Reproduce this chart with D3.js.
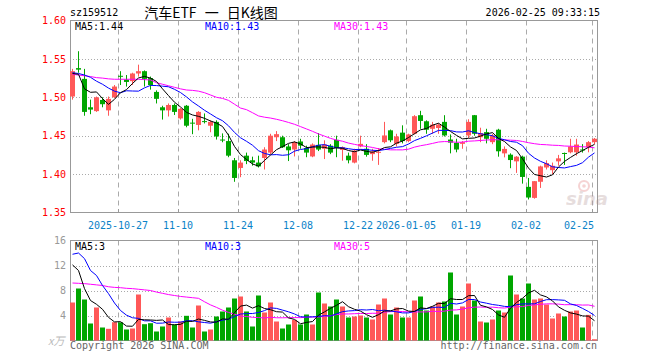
<!DOCTYPE html>
<html><head><meta charset="utf-8">
<script src="https://cdn.jsdelivr.net/npm/d3@7"></script>
<style>body{margin:0;background:#fff}svg{display:block}</style>
</head><body><svg id="c" width="660" height="360"></svg>
<script>
const opens = [1.501,1.538,1.524,1.487,1.482,1.4965,1.483,1.500,1.528,1.523,
1.521,1.531,1.534,1.525,1.507,1.487,1.483,1.490,1.4725,1.489,
1.467,1.464,1.469,1.463,1.468,1.445,1.443,1.418,1.408,1.424,
1.418,1.415,1.421,1.428,1.448,1.448,1.436,1.432,1.4425,1.434,
1.423,1.438,1.433,1.437,1.4446,1.4315,1.424,1.415,1.436,1.433,
1.426,1.428,1.4416,1.457,1.4394,1.454,1.443,1.4525,1.4767,1.4688,
1.459,1.460,1.468,1.445,1.4407,1.4394,1.4503,1.4767,1.448,1.4547,
1.4416,1.4578,1.427,1.4253,1.4166,1.4227,1.3834,1.369,1.390,1.4086,
1.4051,1.4166,1.4275,1.4284,1.4284,1.432,1.435,1.4416];
const highs = [1.537,1.560,1.537,1.497,1.501,1.500,1.501,1.516,1.534,1.529,
1.532,1.5425,1.535,1.527,1.509,1.489,1.492,1.492,1.486,1.490,
1.472,1.482,1.479,1.470,1.470,1.453,1.4526,1.421,1.418,1.428,
1.4227,1.424,1.435,1.4525,1.456,1.450,1.439,1.443,1.446,1.437,
1.440,1.4534,1.444,1.439,1.450,1.436,1.428,1.433,1.450,1.439,
1.433,1.434,1.468,1.458,1.4525,1.4635,1.4526,1.4768,1.4824,1.470,
1.468,1.466,1.4767,1.4517,1.446,1.443,1.4714,1.477,1.4604,1.459,
1.4525,1.459,1.436,1.427,1.4235,1.424,1.395,1.391,1.411,1.418,
1.415,1.425,1.428,1.446,1.446,1.439,1.443,1.447];
const lows = [1.497,1.532,1.476,1.478,1.481,1.487,1.476,1.499,1.516,1.514,
1.516,1.527,1.514,1.510,1.492,1.471,1.475,1.477,1.471,1.461,
1.452,1.457,1.466,1.4545,1.445,1.4415,1.422,1.390,1.396,1.413,
1.411,1.4086,1.406,1.426,1.443,1.434,1.417,1.423,1.433,1.422,
1.422,1.430,1.4196,1.426,1.422,1.4174,1.414,1.414,1.435,1.4227,
1.4174,1.412,1.440,1.4416,1.436,1.440,1.4416,1.4517,1.459,1.4525,
1.4525,1.4525,1.449,1.427,1.4284,1.433,1.447,1.450,1.4416,1.440,
1.439,1.4227,1.4218,1.4077,1.4016,1.3876,1.367,1.368,1.382,1.406,
1.400,1.411,1.412,1.427,1.424,1.428,1.4284,1.439];
const closes = [1.534,1.536,1.481,1.484,1.500,1.491,1.498,1.514,1.527,1.520,
1.531,1.534,1.524,1.516,1.498,1.483,1.490,1.481,1.485,1.463,
1.466,1.481,1.468,1.468,1.449,1.444,1.424,1.395,1.415,1.417,
1.415,1.410,1.432,1.450,1.452,1.435,1.431,1.4416,1.437,1.428,
1.4385,1.432,1.4385,1.428,1.434,1.435,1.418,1.4306,1.4394,1.425,
1.4293,1.429,1.4503,1.444,1.449,1.443,1.4517,1.4754,1.4692,1.4578,
1.4644,1.4644,1.4503,1.441,1.432,1.4416,1.468,1.4525,1.4534,1.446,
1.4503,1.4297,1.4328,1.4183,1.4227,1.3963,1.3695,1.3908,1.410,1.4143,
1.4108,1.4205,1.427,1.4359,1.4385,1.4315,1.4416,1.446];
const volumes = [6.08,8.32,6.56,2.72,5.28,2.08,1.87,2.93,2.91,1.76,
1.92,7.36,2.61,2.77,1.44,2.24,3.68,2.51,3.04,3.95,
2.08,5.6,1.44,1.76,3.84,4.64,5.28,6.72,7.04,4.64,
2.24,7.2,4.48,6.08,3.04,1.92,2.56,3.3,2.56,4.16,
2.56,7.68,5.92,5.44,6.56,5.44,3.68,3.84,4.0,3.68,
3.36,5.76,6.72,4.16,5.28,3.68,3.68,6.4,7.04,4.8,
5.44,6.08,6.24,10.88,4.16,5.44,9.12,6.4,3.04,2.88,
3.36,4.8,4.48,10.4,7.36,6.72,9.12,6.56,6.72,5.76,
3.52,4.32,3.84,4.64,4.8,2.08,4.1,0.2];
// moving-average values before a full window exists
const ma5Head = [1.531,1.530,1.511,1.5065];
const ma10Head = [1.532,1.531,1.529,1.526,1.521,1.517,1.512,1.508,1.506];
const ma30Head = [1.530,1.529,1.528,1.527,1.5256,1.525,1.524,1.5235,1.5235,1.5235,
1.5235,1.5235,1.523,1.5226,1.519,1.517,1.515,1.513,1.511,1.5095,
1.509,1.508,1.506,1.503,1.500,1.4986,1.496,1.491,1.486];
const vma5Head = [12.1,11.2,8.3,6.4];
const vma10Head = [13.8,14.0,13.1,11.2,10.4,8.8,7.5,6.0,4.8];
const vma30Head = [9.2,9.15,9.1,9.0,8.9,8.8,8.6,8.5,8.45,8.35,
8.3,8.2,8.1,8.0,7.75,7.55,7.35,7.2,7.05,6.95,
6.85,6.75,6.2,5.7,5.3,4.85,4.5,4.2,3.9];
const tickIndex = [8,18,28,38,48,56,66,76,87];
const tickLabels = ["2025-10-27","11-10","11-24","12-08","12-22","2026-01-05","01-19","02-02","02-25"];
const priceTicks = [1.60,1.55,1.50,1.45,1.40,1.35];
const priceGrid = [1.55,1.50,1.45,1.40];
const volTicks = [16,12,8,4];
const volGrid = [12,8,4];
const legendPrice = ["MA5:1.44","MA10:1.43","MA30:1.43"];
const legendVol = ["MA5:3","MA10:3","MA30:5"];

const RED = "#ff5858", GREEN = "#00a600";
const MONO = "'DejaVu Sans Mono', 'Liberation Mono', monospace";
const n = closes.length;
const svg = d3.select("#c");

const x = d3.scaleBand().domain(d3.range(n)).range([69.5, 597.5]).paddingInner(1/6).paddingOuter(1/12);
const y = d3.scaleLinear().domain([1.35, 1.60]).range([212.5, 20.5]);
const yv = d3.scaleLinear().domain([0, 16]).range([340.5, 240.5]);
const L = 70, R = 598;
const cx = i => x(i) + x.bandwidth() / 2;

function movingAvg(vals, w, head) {
  return vals.map((v, i) => i < w - 1 ? head[i] : d3.mean(vals.slice(i - w + 1, i + 1)));
}

// ---- header
svg.append("text").attr("x", 70).attr("y", 16).attr("font-family", MONO).attr("font-size", 10).attr("fill", "#000").text("sz159512");
svg.append("text").attr("x", 211).attr("y", 17.5).attr("text-anchor", "middle").attr("font-family", "'Noto Sans CJK SC', sans-serif").attr("font-size", 14).attr("fill", "#000").style("word-spacing", "5px").text("汽车ETF 一 日K线图");
svg.append("text").attr("x", 600).attr("y", 16).attr("text-anchor", "end").attr("font-family", MONO).attr("font-size", 10).attr("fill", "#000").text("2026-02-25 09:33:15");

function panel(top, bottom, gridYs) {
  const g = svg.append("g");
  gridYs.forEach(gy => {
    const yy = Math.round(gy) + 0.5;
    g.append("line").attr("x1", L).attr("x2", R).attr("y1", yy).attr("y2", yy)
      .attr("stroke", "#aaa").attr("stroke-dasharray", "1,2");
  });
  tickIndex.forEach(ti => {
    const xx = x(ti) + 0.5;
    g.append("line").attr("x1", xx).attr("x2", xx).attr("y1", top).attr("y2", bottom)
      .attr("stroke", "#aaa").attr("stroke-dasharray", "5,4");
  });
  g.append("rect").attr("x", L + 0.5).attr("y", top).attr("width", R - L - 1).attr("height", bottom - top)
    .attr("fill", "none").attr("stroke", "#999");
  return g;
}

// ---- price panel
panel(20.5, 212.5, priceGrid.map(y));

// watermark
const wm = svg.append("g").attr("opacity", 0.3);
wm.append("circle").attr("cx", 584).attr("cy", 186).attr("r", 5).attr("fill", "none").attr("stroke", "#e07070").attr("stroke-width", 2);
wm.append("circle").attr("cx", 584).attr("cy", 186).attr("r", 1.8).attr("fill", "#e07070");
wm.append("text").attr("x", 566).attr("y", 205).attr("font-family", "'DejaVu Sans', sans-serif").attr("font-size", 18).attr("font-style", "italic").attr("font-weight", "bold").attr("fill", "#b09090").text("sina");

// bottom ticks
svg.selectAll(".btick").data(tickIndex).join("line").attr("class", "btick")
  .attr("x1", d => x(d) + 0.5).attr("x2", d => x(d) + 0.5).attr("y1", 209).attr("y2", 212).attr("stroke", "#999");

const ci = d3.range(n);
const gC = svg.append("g");
gC.selectAll(".wick").data(ci).join("rect").attr("class", "wick")
  .attr("x", i => x(i) + 2).attr("width", 1)
  .attr("y", i => y(highs[i])).attr("height", i => Math.max(1, y(lows[i]) - y(highs[i])))
  .attr("fill", i => closes[i] >= opens[i] ? RED : GREEN);
gC.selectAll(".body").data(ci).join("rect").attr("class", "body")
  .attr("x", i => x(i)).attr("width", x.bandwidth())
  .attr("y", i => Math.min(y(opens[i]), y(closes[i])))
  .attr("height", i => Math.max(1, Math.abs(y(opens[i]) - y(closes[i]))))
  .attr("fill", i => closes[i] >= opens[i] ? RED : GREEN);

const lineP = d3.line().x((d, i) => cx(i)).y(d => y(d));
[[movingAvg(closes, 30, ma30Head), "#ff00ff"], [movingAvg(closes, 10, ma10Head), "#0000ff"], [movingAvg(closes, 5, ma5Head), "#000"]]
  .forEach(([s, c]) => svg.append("path").attr("d", lineP(s)).attr("fill", "none").attr("stroke", c).attr("stroke-width", 1));

// y axis price
const axP = svg.append("g").attr("transform", "translate(70,0)")
  .call(d3.axisLeft(y).tickValues(priceTicks).tickFormat(d3.format(".2f")).tickSize(0).tickPadding(4));
axP.select(".domain").remove();
axP.selectAll("text").attr("font-family", MONO).attr("font-size", 10).attr("fill", "#f00");

// legends price
const legX = [75, 205, 334], legC = ["#000", "#0000ff", "#ff00ff"];
legendPrice.forEach((t, k) => svg.append("text").attr("x", legX[k]).attr("y", 30).attr("font-family", MONO).attr("font-size", 10).attr("fill", legC[k]).text(t));

// date labels
svg.selectAll(".dl").data(tickIndex).join("text").attr("class", "dl")
  .attr("x", (d, k) => k === tickIndex.length - 1 ? x(d) + 2 : x(d))
  .attr("y", 229).attr("text-anchor", (d, k) => k === tickIndex.length - 1 ? "end" : "middle")
  .attr("font-family", MONO).attr("font-size", 10).attr("fill", "#0a82c8")
  .text((d, k) => tickLabels[k]);

// ---- volume panel
panel(240.5, 340.5, volGrid.map(yv));
svg.append("g").selectAll("rect").data(ci).join("rect")
  .attr("x", i => x(i)).attr("width", x.bandwidth())
  .attr("y", i => yv(volumes[i])).attr("height", i => yv(0) - yv(volumes[i]))
  .attr("fill", i => closes[i] >= opens[i] ? RED : GREEN);
const lineV = d3.line().x((d, i) => cx(i)).y(d => yv(d));
[[movingAvg(volumes, 30, vma30Head), "#ff00ff"], [movingAvg(volumes, 10, vma10Head), "#0000ff"], [movingAvg(volumes, 5, vma5Head), "#000"]]
  .forEach(([s, c]) => svg.append("path").attr("d", lineV(s)).attr("fill", "none").attr("stroke", c).attr("stroke-width", 1));
const axV = svg.append("g").attr("transform", "translate(70,0)")
  .call(d3.axisLeft(yv).tickValues(volTicks).tickFormat(d3.format("d")).tickSize(0).tickPadding(4));
axV.select(".domain").remove();
axV.selectAll("text").attr("font-family", MONO).attr("font-size", 10).attr("fill", "#999");
legendVol.forEach((t, k) => svg.append("text").attr("x", legX[k]).attr("y", 250).attr("font-family", MONO).attr("font-size", 10).attr("fill", legC[k]).text(t));
svg.append("text").attr("x", 48).attr("y", 345).attr("font-family", "'Noto Sans CJK SC', sans-serif").attr("font-size", 11).attr("font-style", "italic").attr("fill", "#bbb").text("x万");

// footer
svg.append("text").attr("x", 70).attr("y", 349).attr("font-family", MONO).attr("font-size", 10).attr("fill", "#666").text("Copyright 2026 SINA.COM");
svg.append("text").attr("x", 597).attr("y", 349).attr("text-anchor", "end").attr("font-family", MONO).attr("font-size", 10).attr("fill", "#666").text("http://finance.sina.com.cn");
</script></body></html>
